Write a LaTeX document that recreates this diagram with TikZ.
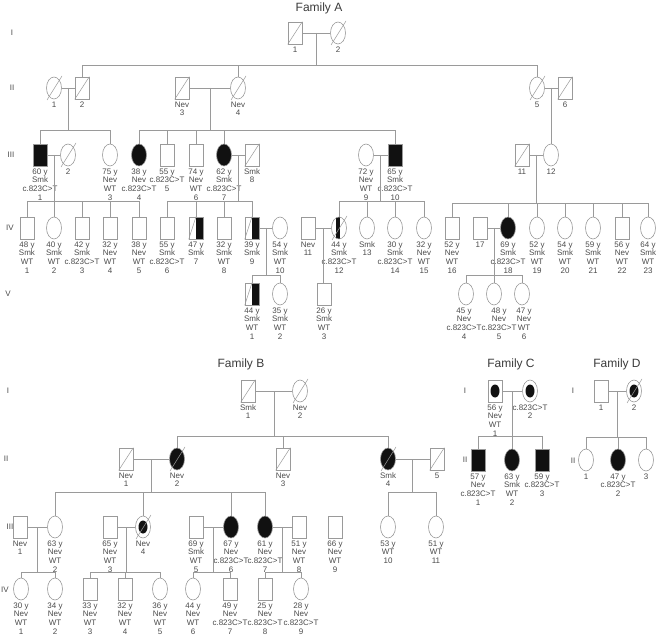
\documentclass[tikz,border=0pt]{standalone}
\usepackage{fontspec}
\setmainfont{Liberation Sans}
\usetikzlibrary{shapes.geometric,positioning,calc}
\definecolor{pedline}{HTML}{9A9A9A}
\definecolor{pedtxt}{HTML}{4A4A4A}
\definecolor{pedfill}{HTML}{111111}

\begin{document}
\begin{tikzpicture}[
  x=1pt, y=-1pt,
  conn/.style={draw=pedline, line width=0.6pt},
  slash/.style={draw=pedline, line width=0.5pt},
  male/.style={
    rectangle,
    draw=pedline,
    line width=0.6pt,
    fill=white,
    minimum width=14pt,
    minimum height=22pt,
    inner sep=0pt
  },
  female/.style={
    ellipse,
    draw=pedline,
    line width=0.6pt,
    fill=white,
    minimum width=15pt,
    minimum height=22pt,
    inner sep=0pt
  },
  maleA/.style={male, fill=pedfill},
  femaleA/.style={female, fill=pedfill},
  maleD/.style={male, append after command={(\tikzlastnode.south west) edge[slash] (\tikzlastnode.north east)}},
  femaleD/.style={female, append after command={([shift={(-7pt,-12pt)}]\tikzlastnode.center) edge[slash] ([shift={(8pt,12pt)}]\tikzlastnode.center)}},
  femaleAD/.style={femaleD, fill=pedfill},
  maleH/.style={male,
    path picture={\fill[pedfill] (path picture bounding box.north) rectangle (path picture bounding box.south east);},
    append after command={(\tikzlastnode.south west) edge[slash] (\tikzlastnode.north)}},
  femaleBD/.style={femaleD,
    path picture={\fill[pedfill] ([xshift=-3pt]path picture bounding box.north) rectangle ([xshift=0.5pt]path picture bounding box.south);}},
  carrier/.style={path picture={\fill[pedfill] (path picture bounding box.center) ellipse [x radius=4.5pt, y radius=6.5pt];}},
  maleC/.style={male, carrier},
  femaleC/.style={female, carrier},
  femaleCD/.style={femaleD, carrier},
  pinfo/.style={font=\fontsize{8}{8.7}\selectfont, text=pedtxt, align=center, inner sep=0pt},
  genlbl/.style={font=\fontsize{8}{9}\selectfont, text=pedtxt},
  famtitle/.style={font=\fontsize{12}{14}\selectfont, text=pedtxt!80!black, inner sep=0pt}
]
\useasboundingbox (0,0) rectangle (656,636);

% --- titles and generations ---
\node[famtitle] (titA) at (319,8) {Family A};
\node[famtitle] (titB) at (241,364) {Family B};
\node[famtitle] (titC) at (511,364) {Family C};
\node[famtitle] (titD) at (617,364) {Family D};
\foreach \n/\x/\y/\g in {gA1/12/33/I, gA2/12/88/II, gA3/11/155/III, gA4/10/228/IV, gA5/8/294/V,
    gB1/8/391/I, gB2/6/459/II, gB3/10/527/III, gB4/5/590/IV,
    gC1/465/391/I, gC2/465/460/II, gD1/573/391/I, gD2/573/461/II}
  \node[genlbl] (\n) at (\x,\y) {\g};

% --- Family A ---
\foreach \n/\x/\s/\lab in {a11/295/maleD/1, a12/338/femaleD/2} {
  \node[\s] (\n) at (\x,33) {};
  \node[pinfo, below=2pt of \n] (\n t) {\lab};
}
\foreach \n/\x/\s/\lab in {a21/54/femaleD/1, a22/82/maleD/2, a23/182/maleD/{Nev\\3},
    a24/238/femaleD/{Nev\\4}, a25/537/femaleD/5, a26/565/maleD/6} {
  \node[\s] (\n) at (\x,88) {};
  \node[pinfo, below=2pt of \n] (\n t) {\lab};
}
\foreach \n/\x/\s/\lab in {
    a31/40/maleA/{60 y\\Smk\\c.823C>T\\1}, a32/68/femaleD/2,
    a33/110/female/{75 y\\Nev\\WT\\3}, a34/139/femaleA/{38 y\\Nev\\c.823C>T\\4},
    a35/167/male/{55 y\\c.823C>T\\5}, a36/196/male/{74 y\\Nev\\WT\\6},
    a37/224/femaleA/{62 y\\Smk\\c.823C>T\\7}, a38/252/maleD/{Smk\\8},
    a39/366/female/{72 y\\Nev\\WT\\9}, a310/395/maleA/{65 y\\Smk\\c.823C>T\\10},
    a311/522/maleD/11, a312/551/female/12} {
  \node[\s] (\n) at (\x,155) {};
  \node[pinfo, below=2pt of \n] (\n t) {\lab};
}
\foreach \n/\x/\s/\lab in {
    a41/27/male/{48 y\\Smk\\WT\\1}, a42/54/female/{40 y\\Smk\\WT\\2},
    a43/82/male/{42 y\\Smk\\c.823C>T\\3}, a44/110/male/{32 y\\Nev\\WT\\4},
    a45/139/male/{38 y\\Nev\\WT\\5}, a46/167/male/{55 y\\Smk\\c.823C>T\\6},
    a47/196/maleH/{47 y\\Smk\\7}, a48/224/male/{32 y\\Smk\\WT\\8},
    a49/252/maleH/{39 y\\Smk\\9}, a410/280/female/{54 y\\Smk\\WT\\10},
    a411/308/male/{Nev\\11}, a412/339/femaleBD/{44 y\\Smk\\c.823C>T\\12},
    a413/367/female/{Smk\\13}, a414/395/female/{30 y\\Smk\\c.823C>T\\14},
    a415/424/female/{32 y\\Nev\\WT\\15}, a416/452/male/{52 y\\Nev\\WT\\16},
    a417/480/male/17, a418/508/femaleA/{69 y\\Smk\\c.823C>T\\18},
    a419/537/female/{52 y\\Smk\\WT\\19}, a420/565/female/{54 y\\Smk\\WT\\20},
    a421/593/female/{59 y\\Smk\\WT\\21}, a422/622/male/{56 y\\Nev\\WT\\22},
    a423/648/female/{64 y\\Smk\\WT\\23}} {
  \node[\s] (\n) at (\x,228) {};
  \node[pinfo, below=2pt of \n] (\n t) {\lab};
}
\foreach \n/\x/\s/\dx/\lab in {
    a51/252/maleH/0/{44 y\\Smk\\WT\\1}, a52/280/female/0/{35 y\\Smk\\WT\\2},
    a53/324/male/0/{26 y\\Smk\\WT\\3}, a54/466/female/-2/{45 y\\Nev\\c.823C>T\\4},
    a55/494/female/5/{48 y\\Nev\\c.823C>T\\5}, a56/522/female/2/{47 y\\Nev\\WT\\6}} {
  \node[\s] (\n) at (\x,294) {};
  \node[pinfo, below=2pt of \n, xshift=\dx pt] (\n t) {\lab};
}

% --- Family B ---
\foreach \n/\x/\s/\lab in {b11/248/maleD/{Smk\\1}, b12/300/femaleD/{Nev\\2}} {
  \node[\s] (\n) at (\x,391) {};
  \node[pinfo, below=2pt of \n] (\n t) {\lab};
}
\foreach \n/\x/\s/\lab in {b21/126/maleD/{Nev\\1}, b22/177/femaleAD/{Nev\\2},
    b23/283/maleD/{Nev\\3}, b24/388/femaleAD/{Smk\\4}, b25/437/maleD/5} {
  \node[\s] (\n) at (\x,459) {};
  \node[pinfo, below=2pt of \n] (\n t) {\lab};
}
\foreach \n/\x/\s/\lab in {
    b31/20/male/{Nev\\1}, b32/55/female/{63 y\\Nev\\WT\\2},
    b33/110/male/{65 y\\Nev\\WT\\3}, b34/143/femaleCD/{Nev\\4},
    b35/196/male/{69 y\\Smk\\WT\\5}, b36/231/femaleA/{67 y\\Nev\\c.823C>T\\6},
    b37/265/femaleA/{61 y\\Nev\\c.823C>T\\7}, b38/299/male/{51 y\\Nev\\WT\\8},
    b39/335/male/{66 y\\Nev\\WT\\9}, b310/388/female/{53 y\\WT\\10},
    b311/436/female/{51 y\\WT\\11}} {
  \node[\s] (\n) at (\x,527) {};
  \node[pinfo, below=2pt of \n] (\n t) {\lab};
}
\foreach \n/\x/\s/\lab in {
    b41/21/female/{30 y\\Nev\\WT\\1}, b42/55/female/{34 y\\Nev\\WT\\2},
    b43/90/male/{33 y\\Nev\\WT\\3}, b44/125/male/{32 y\\Nev\\WT\\4},
    b45/160/female/{36 y\\Nev\\WT\\5}, b46/193/female/{44 y\\Nev\\WT\\6},
    b47/230/male/{49 y\\Nev\\c.823C>T\\7}, b48/265/male/{25 y\\Nev\\c.823C>T\\8},
    b49/301/female/{28 y\\Nev\\c.823C>T\\9}} {
  \node[\s] (\n) at (\x,589) {};
  \node[pinfo, below=2pt of \n] (\n t) {\lab};
}

% --- Family C and D ---
\foreach \n/\x/\s/\lab in {c11/495/maleC/{56 y\\Nev\\WT\\1}, c12/530/femaleC/{c.823C>T\\2},
    d11/601/male/1, d12/634/femaleCD/2} {
  \node[\s] (\n) at (\x,391) {};
  \node[pinfo, below=2pt of \n] (\n t) {\lab};
}
\foreach \n/\x/\s/\lab in {c21/478/maleA/{57 y\\Nev\\c.823C>T\\1}, c22/512/femaleA/{63 y\\Smk\\WT\\2},
    c23/542/maleA/{59 y\\c.823C>T\\3}, d21/586/female/1, d22/618/femaleA/{47 y\\c.823C>T\\2},
    d23/646/female/3} {
  \node[\s] (\n) at (\x,460) {};
  \node[pinfo, below=2pt of \n] (\n t) {\lab};
}

% --- matings ---
\foreach \p/\q/\m in {a11/a12/ma1, a21/a22/ma2, a23/a24/ma3, a25/a26/ma4, a31/a32/ma5,
    a37/a38/ma6, a39/a310/ma7, a311/a312/ma8, a49/a410/ma9, a411/a412/ma10, a417/a418/ma11,
    b11/b12/mb1, b21/b22/mb2, b24/b25/mb3, b31/b32/mb4, b33/b34/mb5, b35/b36/mb6, b37/b38/mb7,
    c11/c12/mc1, d11/d12/md1} {
  \draw[conn] (\p) -- (\q);
  \coordinate (\m) at ($(\p)!.5!(\q)$);
}

% --- sibships ---
\foreach \s/\y in {sa1/65, sa2/130, sa3/201, sa4/203, sa5/275, sb1/436, sb2/492, sb3/572, sd1/437}
  \coordinate (\s) at (0,\y);
\foreach \m/\s/\l/\r in {ma1/sa1/a22/a25, ma2/sa2/a31/a33, ma3/sa2/a34/a310,
    ma5/sa3/a41/a45, ma6/sa3/a46/a49, ma7/sa3/a412/a415, ma8/sa4/a416/a423,
    ma9/sa5/a51/a52, ma11/sa5/a54/a56,
    mb1/sb1/b22/b24, mb2/sb2/b32/b37, mb3/sb2/b310/b311,
    mb4/sb3/b41/b42, mb5/sb3/b43/b45, mb6/sb3/b46/b47, mb7/sb3/b48/b49,
    mc1/sb1/c21/c23, md1/sd1/d21/d23} {
  \draw[conn] (\m) -- (\m |- \s);
  \draw[conn] (\l |- \s) -- (\r |- \s);
}
\foreach \c/\s in {a22/sa1, a24/sa1, a25/sa1, a31/sa2, a33/sa2, a34/sa2, a35/sa2, a36/sa2,
    a37/sa2, a310/sa2, a41/sa3, a42/sa3, a43/sa3, a44/sa3, a45/sa3, a46/sa3, a47/sa3,
    a48/sa3, a49/sa3, a412/sa3, a413/sa3, a414/sa3, a415/sa3, a416/sa4, a418/sa4,
    a419/sa4, a420/sa4, a421/sa4, a422/sa4, a423/sa4, a51/sa5, a52/sa5, a54/sa5,
    a55/sa5, a56/sa5, b22/sb1, b23/sb1, b24/sb1, b32/sb2, b34/sb2, b36/sb2, b37/sb2,
    b310/sb2, b311/sb2, b41/sb3, b42/sb3, b43/sb3, b44/sb3, b45/sb3, b46/sb3, b47/sb3,
    b48/sb3, b49/sb3, c21/sb1, c22/sb1, c23/sb1, d21/sd1, d22/sd1, d23/sd1}
  \draw[conn] (\c.north) -- (\c |- \s);
\draw[conn] (ma4) -- (ma4 |- a312.north);
\draw[conn] (ma10) -- (ma10 |- a53.north);

\end{tikzpicture}
\end{document}
